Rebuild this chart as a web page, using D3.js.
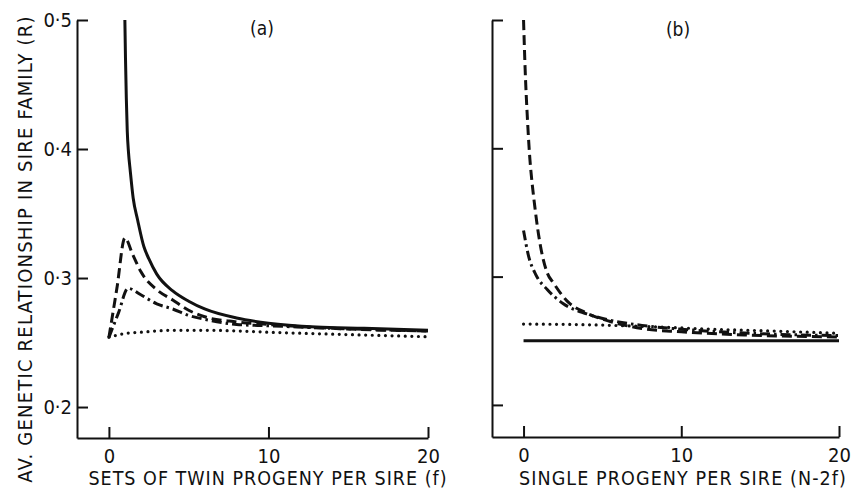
<!DOCTYPE html>
<html><head><meta charset="utf-8">
<script src="https://cdn.jsdelivr.net/npm/d3@7"></script>
<style>
body{margin:0;background:#fff;}
svg{display:block;}
text{font-family:"DejaVu Sans Condensed","DejaVu Sans",sans-serif;fill:#111;}
</style></head><body>
<svg id="c" width="857" height="491"></svg>
<script>
// ---- data ----
const yTicks = [0.2, 0.3, 0.4, 0.5];
const xTicks = [0, 10, 20];
const yTickLabels = ["0·2", "0·3", "0·4", "0·5"];

// panel (a): sets of twin progeny per sire (f)
const aSolidF  = [1.0, 1.04, 1.09, 1.15, 1.23, 1.33, 1.52, 1.8, 2.2, 2.5, 3.0, 4.0, 5.0, 6.0, 8.0, 10, 13, 16, 20];
const aSolidR  = [0.500, 0.470, 0.440, 0.414, 0.397, 0.384, 0.362, 0.345, 0.324, 0.315, 0.303, 0.290, 0.282, 0.276, 0.269, 0.265, 0.262, 0.261, 0.2595];
const aDashF   = [0, 0.5, 1.0, 1.5, 2.0, 3.0, 4.0, 5.0, 6.0, 8.0, 10, 14, 20];
const aDashR   = [0.254, 0.292, 0.331, 0.318, 0.305, 0.291, 0.283, 0.275, 0.270, 0.266, 0.264, 0.261, 0.259];
const aDashDotF = [0, 0.6, 1.2, 2.0, 3.0, 4.0, 5.0, 6.0, 8.0, 10, 14, 20];
const aDashDotR = [0.254, 0.273, 0.292, 0.287, 0.280, 0.276, 0.271, 0.268, 0.264, 0.263, 0.261, 0.259];
const aDotF    = [0, 1, 2, 4, 6, 8, 10, 14, 20];
const aDotR    = [0.254, 0.257, 0.258, 0.2595, 0.2595, 0.259, 0.258, 0.2565, 0.2545];

// panel (b): single progeny per sire (N-2f)
const bSolidF  = [0, 5, 10, 15, 20];
const bSolidR  = [0.250, 0.250, 0.250, 0.250, 0.250];
const bDashF   = [0, 0.1, 0.25, 0.4, 0.55, 0.7, 0.9, 1.2, 1.5, 1.9, 2.8, 4.0, 5.5, 7.5, 10, 14, 20];
const bDashR   = [0.500, 0.462, 0.422, 0.392, 0.372, 0.356, 0.337, 0.316, 0.303, 0.295, 0.2805, 0.2716, 0.265, 0.2595, 0.257, 0.2545, 0.253];
const bDashDotF = [0, 0.3, 0.8, 1.5, 2.5, 4.0, 5.5, 7.5, 10, 14, 20];
const bDashDotR = [0.336, 0.317, 0.301, 0.290, 0.279, 0.271, 0.266, 0.262, 0.259, 0.256, 0.254];
const bDotF    = [0, 4, 8, 12, 16, 20];
const bDotR    = [0.263, 0.2625, 0.261, 0.259, 0.2575, 0.2558];

const panels = [
  {label:"(a)", xTitle:"SETS OF TWIN PROGENY PER SIRE (f)", showY:true,
   xr:[77,428], yr:[438,20], yd:[0.176,0.5], labelPos:[262,35], titleX:268, titleLS:1.0,
   series:[
     {f:aSolidF, r:aSolidR, style:"solid"},
     {f:aDashF, r:aDashR, style:"dash"},
     {f:aDashDotF, r:aDashDotR, style:"dashdot"},
     {f:aDotF, r:aDotR, style:"dot"}]},
  {label:"(b)", xTitle:"SINGLE PROGENY PER SIRE (N-2f)", showY:false,
   xr:[492,839], yr:[437,20], yd:[0.175,0.5], labelPos:[678,36], titleX:683, titleLS:1.1,
   series:[
     {f:bSolidF, r:bSolidR, style:"solid"},
     {f:bDashF, r:bDashR, style:"dash"},
     {f:bDashDotF, r:bDashDotR, style:"dashdot"},
     {f:bDotF, r:bDotR, style:"dot"}]}
];

const styles = {
  solid:{w:3, dash:null, cap:"butt"},
  dash:{w:3, dash:"10,5", cap:"butt"},
  dashdot:{w:3, dash:"10,4,2.5,4", cap:"butt"},
  dot:{w:3.2, dash:"0,6.6", cap:"round"}
};

const svg = d3.select("#c");

panels.forEach(p => {
  const x = d3.scaleLinear().domain([-2,20]).range(p.xr);
  const y = d3.scaleLinear().domain(p.yd).range(p.yr);
  const g = svg.append("g");

  const ya = d3.axisLeft(y).tickValues(yTicks).tickSizeInner(-11).tickSizeOuter(0)
    .tickPadding(5).tickFormat((d,i) => p.showY ? yTickLabels[i] : "");
  const gy = g.append("g").attr("transform",`translate(${p.xr[0]},0)`).call(ya);
  const xa = d3.axisBottom(x).tickValues(xTicks).tickSizeInner(-11).tickSizeOuter(0)
    .tickPadding(11).tickFormat(d3.format("d"));
  const gx = g.append("g").attr("transform",`translate(0,${p.yr[0]})`).call(xa);
  [gx, gy].forEach(a => {
    a.select(".domain").attr("stroke","#111").attr("stroke-width",2);
    a.selectAll(".tick line").attr("stroke","#111").attr("stroke-width",2);
    a.selectAll(".tick text").attr("font-size",20)
      .attr("font-family","DejaVu Sans Condensed, DejaVu Sans, sans-serif").attr("fill","#111");
  });
  gx.selectAll(".tick text").attr("dy","0.71em");

  const line = d3.line().x(d => x(d[0])).y(d => y(d[1])).curve(d3.curveMonotoneX);
  p.series.forEach(s => {
    const st = styles[s.style];
    const pts = s.f.map((f,i) => [f, s.r[i]]);
    g.append("path").attr("d", line(pts)).attr("fill","none").attr("stroke","#111")
      .attr("stroke-width", st.w).attr("stroke-dasharray", st.dash)
      .attr("stroke-linecap", st.cap).attr("stroke-linejoin","round");
  });

  g.append("text").attr("x",p.labelPos[0]).attr("y",p.labelPos[1]).attr("text-anchor","middle")
    .attr("font-size",19).text(p.label);
  g.append("text").attr("x",p.titleX).attr("y",485)
    .attr("text-anchor","middle").attr("font-size",19.5).attr("letter-spacing",p.titleLS).text(p.xTitle);
});

svg.append("text").attr("transform","translate(32,249) rotate(-90)")
  .attr("text-anchor","middle").attr("font-size",20).attr("letter-spacing",1.2)
  .text("AV. GENETIC RELATIONSHIP IN SIRE FAMILY (R)");
</script>
</body></html>
